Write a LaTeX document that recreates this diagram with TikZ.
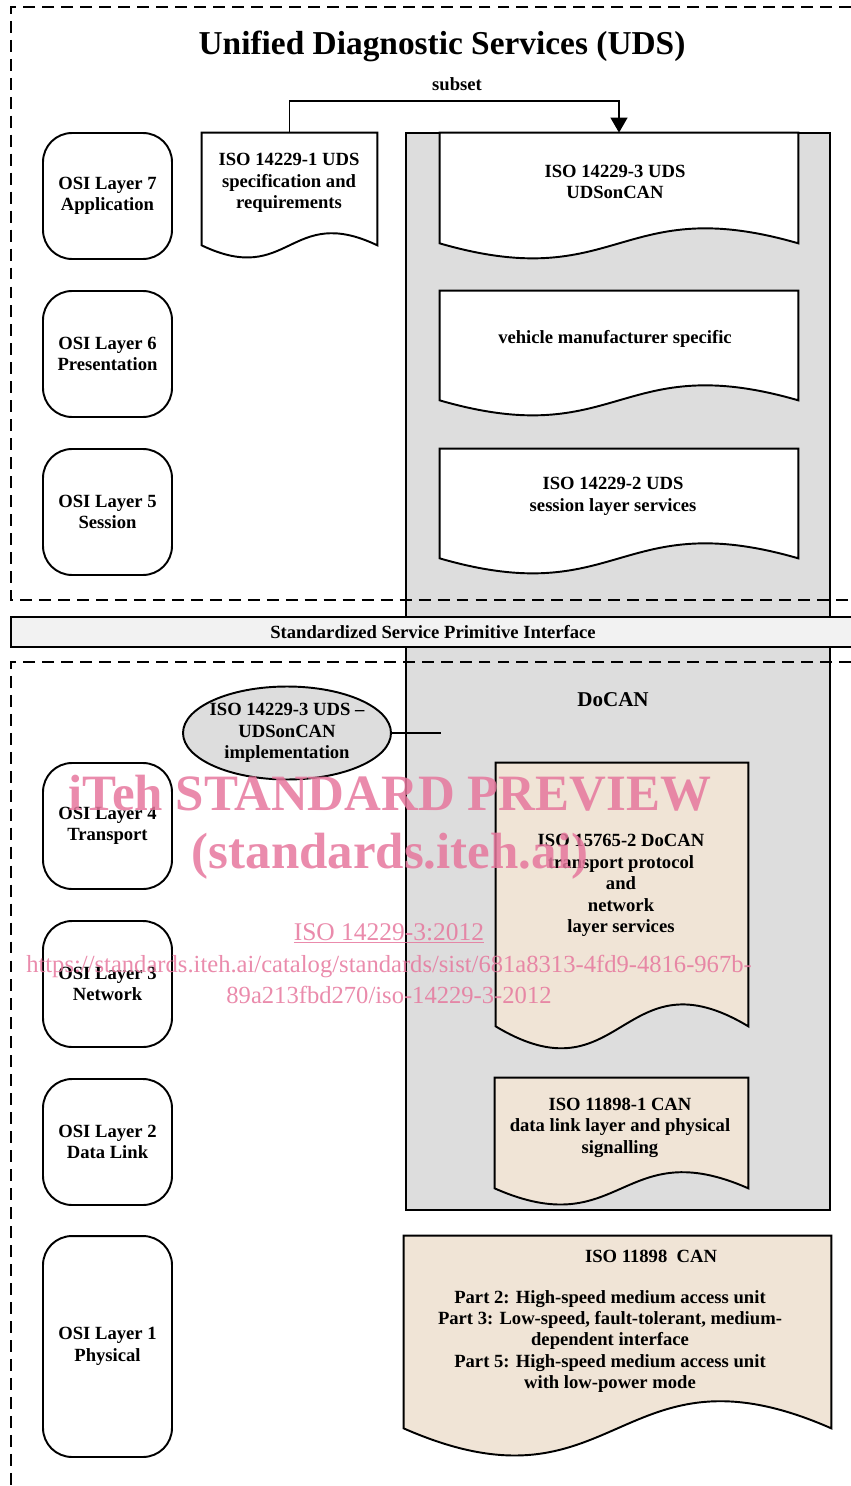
\documentclass[tikz,border=0pt]{standalone}
\usepackage{fontspec}
\setmainfont{Liberation Serif}
\usepackage{tikz}
\usetikzlibrary{positioning,arrows.meta,shapes.geometric,fit,calc}
\definecolor{stackgray}{HTML}{DDDDDD}
\definecolor{barfill}{HTML}{F2F2F2}
\definecolor{docbeige}{HTML}{F0E4D6}
\definecolor{markpink}{HTML}{E6779D}

% document outline with a wavy bottom edge: node, fill, pull of the wave
\newcommand{\wavedoc}[3]{%
  \draw[docline, fill=#2] (#1.south east)
    .. controls ($(#1.south)+(0,-#3)$) and ($(#1.south)+(0,#3)$) .. (#1.south west)
    -- (#1.north west) -- (#1.north east) -- cycle;}

\begin{document}
\begin{tikzpicture}[x=0.02cm, y=-0.02cm,
  every node/.style={font=\bfseries\fontsize{10.6}{12.2}\selectfont, align=center},
  osibox/.style={draw, line width=1.1pt, rounded corners=0.58cm, inner sep=0pt,
                 minimum width=2.58cm, minimum height=2.52cm},
  docshape/.style={inner sep=0pt},
  docline/.style={draw=black, line width=1.1pt},
  zone/.style={dash pattern=on 6.8pt off 4pt, line width=0.7pt},
  flow/.style={-{Triangle[length=8.5pt, width=9.5pt]}, line width=1.1pt},
  wmark/.style={text=markpink, opacity=0.85}
]
\useasboundingbox (0,0) rectangle (851,1486);

% protocol stack behind the documents
\node[fit={(406,133) (830,1210)}, draw, fill=stackgray, line width=1.1pt, inner sep=0pt] (stack) {};

% dashed zones
\draw[zone] (851,7) -- (11,7) -- (11,600) -- (851,600);
\draw[zone] (851,662) -- (11,662) -- (11,1490);

\node[draw, fill=barfill, line width=0.8pt, minimum width=16.88cm, minimum height=0.6cm,
      inner sep=0pt] (spi) at (433,632) {Standardized Service Primitive Interface};

\node[font=\bfseries\fontsize{19}{22}\selectfont, anchor=base] (title) at (442,55)
  {Unified Diagnostic Services (UDS)};

% OSI layers
\node[osibox] (osi7) at (107.5,196)  {OSI Layer 7\\Application};
\node[osibox] (osi6) at (107.5,354)  {OSI Layer 6\\Presentation};
\node[osibox] (osi5) at (107.5,512)  {OSI Layer 5\\Session};
\node[osibox] (osi4) at (107.5,826)  {OSI Layer 4\\Transport};
\node[osibox] (osi3) at (107.5,984)  {OSI Layer 3\\Network};
\node[osibox] (osi2) at (107.5,1142) {OSI Layer 2\\Data Link};
\node[osibox, minimum height=4.42cm] (osi1) at (107.5,1346.5) {OSI Layer 1\\Physical};

% documents
\node[docshape, fit={(202,133) (377,245)}] (uds1) {};
\wavedoc{uds1}{white}{42}
\node (uds1txt) at (289,183) {ISO 14229-1 UDS\\specification and\\requirements};

\node[docshape, fit={(440,133) (798,243)}] (udscan) {};
\wavedoc{udscan}{white}{52}
\node (udscantxt) at (615,182) {ISO 14229-3 UDS\\UDSonCAN};

\node[docshape, fit={(440,291) (798,400)}] (vms) {};
\wavedoc{vms}{white}{52}
\node (vmstxt) at (615,339) {vehicle manufacturer specific};

\node[docshape, fit={(440,449) (798,558)}] (sess) {};
\wavedoc{sess}{white}{52}
\node (sesstxt) at (613,496.5) {ISO 14229-2 UDS\\session layer services};

\node[docshape, fit={(496,763) (748,1026)}] (tp) {};
\wavedoc{tp}{docbeige}{76}
\node (tptxt) at (621,885.5) {ISO 15765-2 DoCAN\\transport protocol\\and\\network\\layer services};

\node[docshape, fit={(495,1078) (748,1188)}] (dll) {};
\wavedoc{dll}{docbeige}{56}
\node (dlltxt) at (620,1127.5) {ISO 11898-1 CAN\\data link layer and physical\\signalling};

\node[docshape, fit={(404,1236) (831,1428)}] (can) {};
\wavedoc{can}{docbeige}{94}
\node (cantitle) at (651,1256) {ISO 11898~~CAN};
\node (canparts) at (610,1341.5) {Part 2: High-speed medium access unit\\Part 3: Low-speed, fault-tolerant, medium-\\dependent interface\\Part 5: High-speed medium access unit\\with low-power mode};

\node[font=\bfseries\fontsize{12}{14}\selectfont] (docanlbl) at (613,700) {DoCAN};

% subset arrow
\draw[flow] (uds1.north) -- ++(0,-32) -| (udscan.north);
\node (subsetlbl) at (457,84) {subset};

% implementation bubble
\node[ellipse, draw, line width=1.1pt, fill=stackgray, minimum width=4.16cm,
      minimum height=1.86cm, inner sep=-3.5pt] (impl) at (287,733)
  {ISO 14229-3 UDS –\\UDSonCAN\\implementation};
\coordinate (implend) at (441,733);
\draw[line width=1.1pt] (impl) -- (implend);

% preview stamp
\node[wmark, font=\bfseries\fontsize{29}{34}\selectfont, anchor=base] (wm1) at (390,810) {iTeh STANDARD PREVIEW};
\node[wmark, font=\bfseries\fontsize{29}{34}\selectfont, anchor=base] (wm2) at (390,868) {(standards.iteh.ai)};
\node[wmark, font=\mdseries\fontsize{14.5}{17}\selectfont, anchor=base] (wm3) at (389,940) {\underline{ISO 14229-3:2012}};
\node[wmark, font=\mdseries\fontsize{14}{17}\selectfont, anchor=base] (wm4) at (389,972) {https://standards.iteh.ai/catalog/standards/sist/681a8313-4fd9-4816-967b-};
\node[wmark, font=\mdseries\fontsize{14}{17}\selectfont, anchor=base] (wm5) at (389,1003) {89a213fbd270/iso-14229-3-2012};
\end{tikzpicture}
\end{document}
